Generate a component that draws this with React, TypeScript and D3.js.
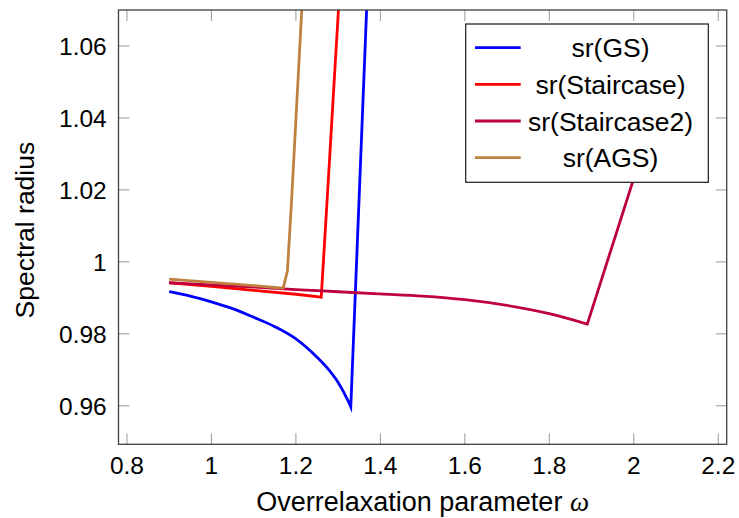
import React from "react";
import * as d3 from "d3";

// ---- data ----
const gsOmega = [0.9, 0.95, 1.0, 1.05, 1.1, 1.15, 1.2, 1.25, 1.28, 1.3, 1.31, 1.32, 1.325, 1.33, 1.4];
const gsSr = [0.9917, 0.9905, 0.9889, 0.987, 0.9846, 0.982, 0.9786, 0.9735, 0.9697, 0.9665, 0.9645, 0.9622, 0.961, 0.9597, 1.166];

const stOmega = [0.9, 1.0, 1.1, 1.2, 1.26, 1.27, 1.28, 1.29, 1.3, 1.31];
const stSr = [0.9942, 0.9932, 0.9921, 0.991, 0.9902, 1.0095, 1.029, 1.049, 1.0685, 1.088];

const st2Omega = [0.9, 1.0, 1.1, 1.2, 1.3, 1.4, 1.5, 1.6, 1.7, 1.8, 1.89, 2.1];
const st2Sr = [0.9942, 0.9936, 0.993, 0.9923, 0.9917, 0.9911, 0.9905, 0.9895, 0.9879, 0.9856, 0.9827, 1.06];

const agsOmega = [0.9, 1.0, 1.1, 1.17, 1.18, 1.19, 1.2, 1.21, 1.22];
const agsSr = [0.9952, 0.9943, 0.9934, 0.9927, 0.9975, 1.0175, 1.0395, 1.0615, 1.0835];

const seriesNames = ["sr(GS)", "sr(Staircase)", "sr(Staircase2)", "sr(AGS)"];
const seriesColors = ["#0000ff", "#ff0000", "#bf0040", "#bf8040"];

const xTicks = [0.8, 1, 1.2, 1.4, 1.6, 1.8, 2, 2.2];
const xTickLabels = ["0.8", "1", "1.2", "1.4", "1.6", "1.8", "2", "2.2"];
const yTicks = [0.96, 0.98, 1, 1.02, 1.04, 1.06];
const yTickLabels = ["0.96", "0.98", "1", "1.02", "1.04", "1.06"];

const xLabel = "Overrelaxation parameter ";
const xLabelSym = "ω";
const yLabel = "Spectral radius";

// ---- layout ----
const W = 739;
const H = 518;
const L = 118.5;
const R = 726.7;
const T = 10;
const B = 444.3;

export default function App() {
  const x = d3.scaleLinear().domain([0.78, 2.22]).range([L, R]);
  const y = d3.scaleLinear().domain([0.9493, 1.07]).range([B, T]);

  const pts = (xs: number[], ys: number[]) => xs.map((v, j) => [v, ys[j]] as [number, number]);

  const linear = d3
    .line<[number, number]>()
    .x((d) => x(d[0]))
    .y((d) => y(d[1]));
  const smooth = d3
    .line<[number, number]>()
    .x((d) => x(d[0]))
    .y((d) => y(d[1]))
    .curve(d3.curveMonotoneX);

  // smooth decreasing branch up to the minimum, then straight segments
  const smoothToMin = (xs: number[], ys: number[]) => {
    const p = pts(xs, ys);
    const minIdx = ys.indexOf(Math.min(...ys));
    return (
      (smooth(p.slice(0, minIdx + 1)) || "") +
      p
        .slice(minIdx + 1)
        .map((q) => `L${x(q[0])},${y(q[1])}`)
        .join("")
    );
  };

  const paths = [
    smoothToMin(gsOmega, gsSr),
    linear(pts(stOmega, stSr)) || "",
    smoothToMin(st2Omega, st2Sr),
    linear(pts(agsOmega, agsSr)) || "",
  ];

  const font = "'Liberation Sans', Arial, sans-serif";
  const tickLen = 11;
  const tickColor = "#9a9a9a";
  const lw = 2.8;

  const legX0 = 465.7;
  const legY0 = 24;
  const legW = 242.6;
  const legH = 158.3;
  const legRowY = [47.7, 84.3, 121, 157.7];

  return (
    <svg
      width={W}
      height={H}
      viewBox={`0 0 ${W} ${H}`}
      style={{ position: "absolute", left: 0, top: 0, background: "#fff" }}
    >
      <defs>
        <clipPath id="plotClip">
          <rect x={L} y={T} width={R - L} height={B - T} />
        </clipPath>
      </defs>
      <rect x={0} y={0} width={W} height={H} fill="#fff" />

      {/* ticks */}
      {xTicks.map((t, i) => (
        <g key={"xt" + i}>
          <line x1={x(t)} x2={x(t)} y1={B} y2={B - tickLen} stroke={tickColor} strokeWidth={1} />
          <line x1={x(t)} x2={x(t)} y1={T} y2={T + tickLen} stroke={tickColor} strokeWidth={1} />
          <text x={x(t)} y={474.3} textAnchor="middle" fontFamily={font} fontSize={24.5} fill="#000">
            {xTickLabels[i]}
          </text>
        </g>
      ))}
      {yTicks.map((t, i) => (
        <g key={"yt" + i}>
          <line x1={L} x2={L + tickLen} y1={y(t)} y2={y(t)} stroke={tickColor} strokeWidth={1} />
          <line x1={R} x2={R - tickLen} y1={y(t)} y2={y(t)} stroke={tickColor} strokeWidth={1} />
          <text x={106.7} y={y(t) + 9} textAnchor="end" fontFamily={font} fontSize={24.5} fill="#000">
            {yTickLabels[i]}
          </text>
        </g>
      ))}

      {/* series */}
      <g clipPath="url(#plotClip)">
        {paths.map((d, i) => (
          <path
            key={"s" + i}
            d={d}
            fill="none"
            stroke={seriesColors[i]}
            strokeWidth={lw}
            strokeLinejoin="miter"
            strokeMiterlimit={10}
          />
        ))}
      </g>

      {/* frame */}
      <rect x={L} y={T} width={R - L} height={B - T} fill="none" stroke="#404040" strokeWidth={1.3} />

      {/* legend */}
      <rect x={legX0} y={legY0} width={legW} height={legH} fill="#fff" stroke="#1a1a1a" strokeWidth={1.2} />
      {seriesNames.map((n, i) => (
        <g key={"lg" + i}>
          <line x1={475} x2={520.7} y1={legRowY[i]} y2={legRowY[i]} stroke={seriesColors[i]} strokeWidth={lw} />
          <text x={610.5} y={legRowY[i] + 9.5} textAnchor="middle" fontFamily={font} fontSize={26.5} fill="#000">
            {n}
          </text>
        </g>
      ))}

      {/* axis labels */}
      <text x={(L + R) / 2} y={511} textAnchor="middle" fontFamily={font} fontSize={27} fill="#000">
        {xLabel}
        <tspan fontFamily="'Liberation Serif', 'DejaVu Serif', serif" fontStyle="italic">
          {xLabelSym}
        </tspan>
      </text>
      <text
        transform={`translate(33.5, ${(T + B) / 2 + 3}) rotate(-90)`}
        textAnchor="middle"
        fontFamily={font}
        fontSize={26.5}
        fill="#000"
      >
        {yLabel}
      </text>
    </svg>
  );
}
